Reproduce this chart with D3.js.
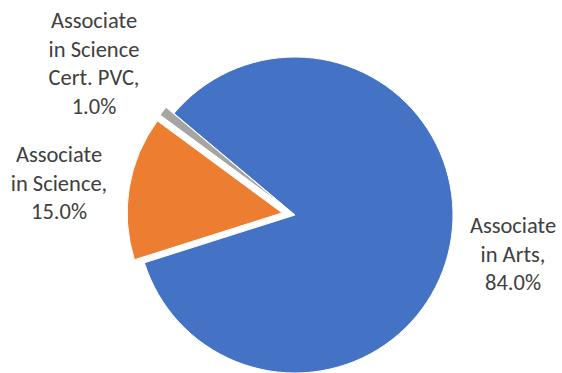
<!DOCTYPE html>
<html>
<head>
<meta charset="utf-8">
<script src="https://cdn.jsdelivr.net/npm/d3@7"></script>
<style>
  body { margin: 0; background: #fff; }
  svg { display: block; }
</style>
</head>
<body>
<script>
const width = 562;
const height = 373;

// data
const categories = ["Associate in Arts", "Associate in Science", "Associate in Science Cert. PVC"];
const values = [84.0, 15.0, 1.0];
const colors = ["#4472C4", "#ED7D31", "#A5A5A5"];
const explode = [0, 13, 13];          // slice offset, px
// label lines (text wrapped like the original)
const labelLines = [
    ["Associate", "in Arts,", "84.0%"],
    ["Associate", "in Science,", "15.0%"],
    ["Associate", "in Science", "Cert. PVC,", "1.0%"]
];
const labelPos = [[513, 233], [59, 162], [94, 28]];  // center x, first baseline

const cx = 295, cy = 215;
const start = -50 * Math.PI / 180;

const pie = d3.pie().sort(null).value(d => d)
    .startAngle(start).endAngle(start + 2 * Math.PI);
const arcs = pie(values);

const arc = d3.arc().innerRadius(0)
    .outerRadius(d => d.index === 0 ? 158 : 155);

const svg = d3.select("body").append("svg")
    .attr("width", width).attr("height", height);

const g = svg.append("g").attr("transform", `translate(${cx},${cy})`);

g.selectAll("path")
    .data(arcs)
    .join("path")
    .attr("transform", d => {
        const mid = (d.startAngle + d.endAngle) / 2;
        const e = explode[d.index];
        return `translate(${Math.sin(mid) * e},${-Math.cos(mid) * e})`;
    })
    .attr("d", arc)
    .attr("fill", (d, i) => colors[i])
    .attr("stroke", "#fff")
    .attr("stroke-width", 1);

const lab = svg.append("g")
    .attr("font-family", "Carlito, Calibri, Lato, sans-serif")
    .attr("font-size", "22.5px")
    .attr("fill", "#404040")
    .attr("text-anchor", "middle");

labelLines.forEach((lines, i) => {
    const t = lab.append("text")
        .attr("x", labelPos[i][0])
        .attr("y", labelPos[i][1]);
    lines.forEach((s, j) => {
        t.append("tspan")
            .attr("x", labelPos[i][0])
            .attr("dy", j === 0 ? 0 : 28.7)
            .text(s);
    });
});
</script>
</body>
</html>
